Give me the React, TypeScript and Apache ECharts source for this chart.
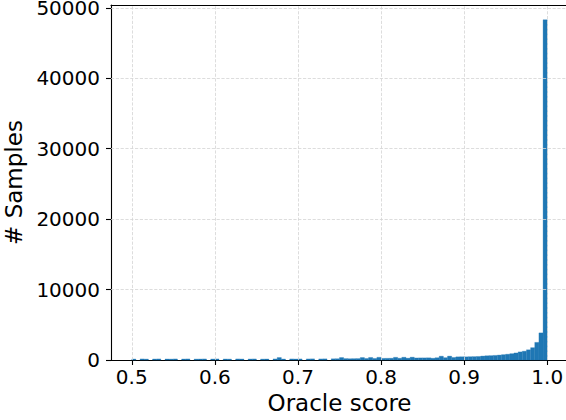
import React, { useEffect, useRef } from "react";
import * as echarts from "echarts";

const binStart = 0.5;
const binWidth = 0.005;
const counts = [
  140, 0, 150, 130, 0, 140, 150, 0, 140, 130,
  150, 0, 140, 150, 0, 130, 140, 150, 0, 140,
  150, 0, 140, 130, 0, 150, 140, 0, 140, 150,
  0, 130, 140, 0, 150, 350, 140, 0, 150, 140,
  150, 0, 150, 160, 0, 150, 160, 0, 170, 180,
  350, 200, 180, 190, 200, 350, 220, 360, 220, 380,
  230, 240, 250, 380, 250, 390, 260, 400, 290, 300,
  300, 310, 250, 320, 540, 330, 550, 360, 450, 460,
  450, 470, 480, 500, 560, 600, 620, 650, 700, 760,
  820, 900, 1000, 1150, 1250, 1450, 1750, 2500, 3850, 48300,
];
const xTicks = [0.5, 0.6, 0.7, 0.8, 0.9, 1.0];
const yTicks = [0, 10000, 20000, 30000, 40000, 50000];
const xName = "Oracle score";
const yName = "# Samples";

export default function App() {
  const ref = useRef<HTMLDivElement>(null);
  useEffect(() => {
    const chart = echarts.init(ref.current!, null, { renderer: "svg" });
    const data = counts.map((c, i) => [binStart + i * binWidth, binStart + (i + 1) * binWidth, c]);
    chart.setOption({
      animation: false,
      textStyle: { fontFamily: "DejaVu Sans" },
      grid: {
        left: 111, width: 457, top: 5, height: 355,
        outerBoundsMode: "none",
        containLabel: false,
        show: false,
      },
      xAxis: [
        {
          type: "value", min: 0.475, max: 1.025,
          name: xName, nameLocation: "middle", nameGap: 28,
          nameTextStyle: { fontSize: 23, color: "#000", fontFamily: "DejaVu Sans" },
          axisLine: { show: true, lineStyle: { color: "#000", width: 1.1 } },
          axisTick: { show: true, customValues: xTicks, length: 5, lineStyle: { color: "#000", width: 1.1 } },
          axisLabel: {
            customValues: xTicks, fontSize: 20, color: "#000", margin: 7,
            fontFamily: "DejaVu Sans",
            formatter: (v: number) => v.toFixed(1),
          },
          splitLine: { show: false },
        },
        {
          type: "value", min: 0.475, max: 1.025, position: "top",
          axisLine: { show: true, onZero: false, lineStyle: { color: "#000", width: 1.1 } },
          axisTick: { show: false },
          axisLabel: { show: false },
          splitLine: { show: false },
        },
      ],
      yAxis: {
        type: "value", min: 0, max: 50400, interval: 10000,
        name: yName, nameLocation: "middle", nameGap: 80,
        nameTextStyle: { fontSize: 23, color: "#000", fontFamily: "DejaVu Sans" },
        axisLine: { show: true, lineStyle: { color: "#000", width: 1.1 } },
        axisTick: { show: true, customValues: yTicks, length: 5, lineStyle: { color: "#000", width: 1.1 } },
        axisLabel: {
          customValues: yTicks, fontSize: 20, lineHeight: 14, padding: [4, 0, 0, 0],
          color: "#000", margin: 11,
          fontFamily: "DejaVu Sans",
          formatter: (v: number) => String(v),
        },
        splitLine: { show: false },
      },
      series: [
        {
          type: "line",
          data: [],
          z: 1,
          silent: true,
          markLine: {
            silent: true,
            symbol: ["none", "none"],
            label: { show: false },
            lineStyle: { type: "dashed", color: "#d4d4d4", width: 0.8 },
            data: [
              ...xTicks.map((v) => ({ xAxis: v })),
              ...yTicks.slice(1).map((v) => ({ yAxis: v })),
            ],
          },
        },
        {
          type: "custom",
          z: 2,
          data,
          encode: { x: [0, 1], y: 2 },
          renderItem: (params: any, api: any) => {
            const lo = api.value(0);
            const hi = api.value(1);
            const v = api.value(2);
            if (!v) return null;
            const p1 = api.coord([lo, v]);
            const p2 = api.coord([hi, 0]);
            return {
              type: "rect",
              shape: { x: p1[0], y: p1[1], width: p2[0] - p1[0], height: p2[1] - p1[1] },
              style: { fill: "#1f77b4", stroke: "#1f77b4", lineWidth: 0.3 },
            };
          },
        },
      ],
    });
    return () => chart.dispose();
  }, []);
  return (
    <div
      ref={ref}
      style={{ position: "fixed", left: 0, top: 0, width: 566, height: 420, background: "#fff" }}
    />
  );
}
